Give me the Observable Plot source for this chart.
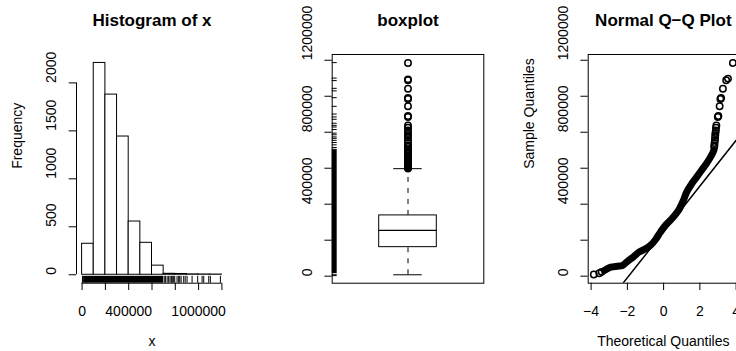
<!DOCTYPE html>
<html><head><meta charset="utf-8">
<script src="https://cdn.jsdelivr.net/npm/d3@7"></script>
<script src="https://cdn.jsdelivr.net/npm/@observablehq/plot@0.6"></script>
<style>
html,body{margin:0;padding:0;background:#fff;}
#chart{position:relative;width:736px;height:351px;overflow:hidden;background:#fff;}
#chart svg{position:absolute;top:0;}
</style></head><body><div id="chart"></div>
<script>
// ---------- data ----------
const titles = ["Histogram of x", "boxplot", "Normal Q\u2212Q Plot"];
const histBreaks = [0, 100000, 200000, 300000, 400000, 500000, 600000, 700000, 800000, 900000, 1000000, 1100000, 1200000];
const histCounts = [323, 2208, 1878, 1441, 555, 333, 95, 10, 8, 4, 3, 2];
const histXTicks = [0, 200000, 400000, 600000, 800000, 1000000, 1200000];
const histXTickLabels = [0, 400000, 1000000];
const histYTicks = [0, 500, 1000, 1500, 2000];
const rugDenseRange = [14000, 700000];
const rugSparse = [3000, 8000, 705000, 715000, 730000, 743000, 755000, 766000, 774000, 786000, 795000, 815000, 829000, 838000, 850000, 872000, 885000, 901000, 944000, 992000, 1030000, 1044000, 1087000, 1101000, 1187000];
const boxStats = {lower: 7800, q1: 161300, median: 254200, q3: 337700, upper: 597500};
const boxOutliers = [598000, 603000, 609000, 614000, 619000, 625000, 632000, 638000, 644000, 651000, 658000, 664000, 671000, 679000, 686000, 694000, 702000, 705000, 718000, 727000, 740000, 755000, 770000, 783000, 796000, 810000, 825000, 838000, 885000, 890000, 944000, 985000, 990000, 1042000, 1089000, 1094000, 1185000];
const valueTicks = [0, 200000, 400000, 600000, 800000, 1000000, 1200000];
const valueTickLabels = [0, 400000, 800000, 1200000];
const qqXTicks = [-4, -2, 0, 2, 4];
const qqBodyTheo = [-3.27, -2.91, -2.54, -2.27, -2.0, -1.64, -1.36, -1.0, -0.73, -0.45, -0.18, 0.09, 0.45, 0.82, 1.09, 1.27, 1.55, 1.82, 2.09, 2.36, 2.64, 2.77];
const qqBodySample = [31700, 50000, 55600, 59500, 81800, 109600, 133500, 152400, 170800, 202500, 244800, 282000, 319300, 365500, 421100, 467300, 514000, 550800, 588000, 625300, 671500, 699300];
const qqPointTheo = [-3.85, -3.55, -3.42, 2.79, 2.80, 2.81, 2.83, 2.84, 2.85, 2.86, 2.88, 2.89, 2.91, 2.99, 3.02, 3.09, 3.13, 3.17, 3.27, 3.45, 3.55, 3.82];
const qqPointSample = [9500, 16700, 24000, 718000, 727000, 740000, 755000, 770000, 783000, 796000, 810000, 825000, 838000, 885000, 890000, 944000, 985000, 990000, 1042000, 1089000, 1098000, 1185000];
const qqLineTheo = [-2.24, 4.0];
const qqLineSample = [-39000, 755000];

// ---------- layout ----------
const H = 351, MT = 54, MB = 68.3;
const innerH = H - MT - MB;
const font = "Liberation Sans, Arial, Helvetica, sans-serif";
const style = {fontFamily: font, fontSize: "14px", color: "black", background: "white", overflow: "visible"};
const fmt = d => (d < 0 ? "\u2212" + Math.abs(d) : String(d));
const tickLen = 7.3;
const rugLen = 6.9;

function titleMark(t) {
  return Plot.text([t], {text: d => d, frameAnchor: "top", dy: -29, lineAnchor: "bottom", fontSize: 17, fontWeight: "bold"});
}
function yLabels(ticks) {
  return Plot.text(ticks, {y: d => d, text: fmt, frameAnchor: "left", dx: -20.5, rotate: -90, lineAnchor: "bottom"});
}
function xLabels(ticks) {
  return Plot.text(ticks, {x: d => d, text: fmt, frameAnchor: "bottom", dy: 32.3, lineAnchor: "bottom"});
}
function xTitle(t) {
  return Plot.text([t], {text: d => d, frameAnchor: "bottom", dy: 63, lineAnchor: "bottom"});
}
function yTitle(t) {
  return Plot.text([t], {text: d => d, frameAnchor: "left", dx: -54.3, rotate: -90, lineAnchor: "bottom"});
}

// ---------- panel 1: histogram ----------
const histBins = histCounts.map((c, i) => ({x1: histBreaks[i], x2: histBreaks[i + 1], count: c}));
const histXDomain = [-48000, 1248000];
const histYDomain = [-88, 2296];
const p1 = Plot.plot({
  width: 245, height: H, marginLeft: 76, marginRight: 18, marginTop: MT, marginBottom: MB,
  style,
  x: {domain: histXDomain},
  y: {domain: histYDomain},
  marks: [
    Plot.rect(histBins, {x1: "x1", x2: "x2", y1: 0, y2: "count", fill: "white", stroke: "black"}),
    Plot.rect([rugDenseRange], {x1: d => d[0], x2: d => d[1], insetTop: innerH - rugLen, fill: "black"}),
    Plot.tickX(rugSparse, {x: d => d, insetTop: innerH - rugLen, stroke: "black"}),
    Plot.ruleY([histYDomain[0]], {x1: histXTicks[0], x2: histXTicks[histXTicks.length - 1], stroke: "black"}),
    Plot.ruleX([histXDomain[0]], {y1: histYTicks[0], y2: histYTicks[histYTicks.length - 1], stroke: "black"}),
    Plot.axisX(histXTicks, {tickSize: tickLen, tickFormat: () => "", label: null}),
    Plot.axisY(histYTicks, {tickSize: tickLen, tickFormat: () => "", label: null}),
    xLabels(histXTickLabels),
    yLabels(histYTicks),
    xTitle("x"),
    yTitle("Frequency"),
    titleMark(titles[0])
  ]
});

// ---------- panel 2: boxplot ----------
const valueDomain = [-39000, 1232000];
const innerW2 = 245 - 86.7 - 6.7;
const p2 = Plot.plot({
  width: 245, height: H, marginLeft: 86.7, marginRight: 6.7, marginTop: MT, marginBottom: MB,
  style,
  x: {domain: [0.5, 1.5], axis: null},
  y: {domain: valueDomain},
  marks: [
    Plot.ruleX([1], {y1: boxStats.q3, y2: boxStats.upper, stroke: "black", strokeDasharray: "5,6"}),
    Plot.ruleX([1], {y1: boxStats.lower, y2: boxStats.q1, stroke: "black", strokeDasharray: "5,6"}),
    Plot.ruleY([boxStats.lower, boxStats.upper], {x1: 0.906, x2: 1.094, stroke: "black"}),
    Plot.rect([boxStats], {x1: 0.81, x2: 1.19, y1: "q1", y2: "q3", fill: "white", stroke: "black"}),
    Plot.ruleY([boxStats.median], {x1: 0.81, x2: 1.19, stroke: "black", strokeWidth: 1.3}),
    Plot.dot(boxOutliers, {x: 1, y: d => d, r: 3.2, stroke: "black", fill: "none"}),
    Plot.rect([rugDenseRange], {y1: d => d[0], y2: d => d[1], insetRight: innerW2 - 5, fill: "black"}),
    Plot.tickY(rugSparse, {y: d => d, insetRight: innerW2 - 5, stroke: "black"}),
    Plot.frame({stroke: "black"}),
    Plot.axisY(valueTicks, {tickSize: tickLen, tickFormat: () => "", label: null}),
    yLabels(valueTickLabels),
    titleMark(titles[1])
  ]
});

// ---------- panel 3: normal Q-Q plot ----------
const qqBody = qqBodyTheo.map((t, i) => ({t, v: qqBodySample[i]}));
const qqPoints = qqPointTheo.map((t, i) => ({t, v: qqPointSample[i]}));
const qqLine = qqLineTheo.map((t, i) => ({t, v: qqLineSample[i]}));
const p3 = Plot.plot({
  width: 250, height: H, marginLeft: 97.7, marginRight: 2, marginTop: MT, marginBottom: MB,
  style,
  x: {domain: [-4.16, 4.13]},
  y: {domain: valueDomain},
  marks: [
    Plot.line(qqBody, {x: "t", y: "v", stroke: "black", strokeWidth: 7, strokeLinecap: "round", strokeLinejoin: "round", curve: "catmull-rom"}),
    Plot.dot(qqPoints, {x: "t", y: "v", r: 3.2, stroke: "black", fill: "none"}),
    Plot.line(qqLine, {x: "t", y: "v", stroke: "black", clip: true}),
    Plot.frame({stroke: "black"}),
    Plot.axisX(qqXTicks, {tickSize: tickLen, tickFormat: () => "", label: null}),
    Plot.axisY(valueTicks, {tickSize: tickLen, tickFormat: () => "", label: null}),
    xLabels(qqXTicks),
    yLabels(valueTickLabels),
    xTitle("Theoretical Quantiles"),
    yTitle("Sample Quantiles"),
    titleMark(titles[2])
  ]
});

const chart = document.getElementById("chart");
[[p1, 0], [p2, 245], [p3, 490]].forEach(([svg, left]) => {
  svg.style.left = left + "px";
  chart.appendChild(svg);
});
</script></body></html>
